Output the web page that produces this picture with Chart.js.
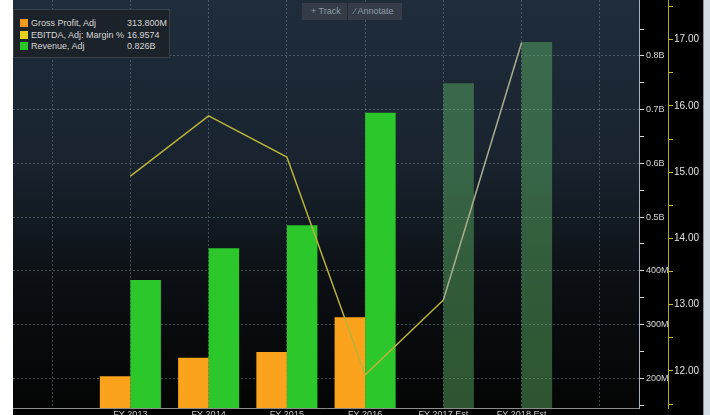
<!DOCTYPE html>
<html>
<head>
<meta charset="utf-8">
<script src="https://cdn.jsdelivr.net/npm/chart.js@4.4.1/dist/chart.umd.min.js"></script>
<style>
    body { margin: 0; background: #000; }
    #wrap { position: relative; width: 710px; height: 415px; overflow: hidden; }
    canvas { display: block; }
    .legend {
        position: absolute; left: 13px; top: 9px; width: 157px; height: 49px;
        background: #1b2229; border: 1px solid #38414a; box-sizing: border-box;
        font: 9px "Liberation Sans", Arial, sans-serif; color: #d6d6d6;
    }
    .legend .row { position: absolute; left: 6px; height: 11px; line-height: 11px; white-space: nowrap; }
    .legend .sw { display: inline-block; width: 8px; height: 8px; vertical-align: -1px; margin-right: 3px; }
    .legend .val { left: 112px; background: #1b2229; padding-left: 1px; }
    .tools {
        position: absolute; left: 302px; top: 3px; width: 100px; height: 17px;
        background: #343d47; font: 9px "Liberation Sans", Arial, sans-serif; color: #8e99a4;
        line-height: 17px;
    }
    .tools span { position: absolute; top: 0; }
    .tools .div { left: 45px; width: 1px; height: 17px; background: #252c33; }
</style>
</head>
<body>
<div id="wrap">
    <canvas id="chart" width="710" height="415"></canvas>
    <div class="legend" id="legend"></div>
    <div class="tools">
        <span style="left:9px">+ Track</span>
        <span class="div"></span>
        <span style="left:52px">&#8260; Annotate</span>
    </div>
</div>
<script>
// Data (money in millions, margin in %)
const categories = ['', 'FY 2013', 'FY 2014', 'FY 2015', 'FY 2016', 'FY 2017 Est', 'FY 2018 Est', ''];
const grossProfit = [null, 204, 238, 249, 313.8, null, null, null];
const revenue = [null, 383, 442, 485, 694, 749, 826, null];
const ebitdaMargin = [null, 14.94, 15.85, 15.23, 11.94, 13.07, 16.9574, null];
const estimate = [false, false, false, false, false, true, true, false];
const moneyTicks = [150, 200, 250, 300, 350, 400, 450, 500, 550, 600, 650, 700, 750, 800, 850];
const marginTicks = [11.5, 12, 12.5, 13, 13.5, 14, 14.5, 15, 15.5, 16, 16.5, 17, 17.5];

// Legend box (last values)
const legendRows = [
    { name: 'Gross Profit, Adj', value: '313.800M', color: '#f39b1f' },
    { name: 'EBITDA, Adj: Margin %', value: '16.9574', color: '#e2d31a' },
    { name: 'Revenue, Adj', value: '0.826B', color: '#2bc42b' }
];
document.getElementById('legend').innerHTML = legendRows.map((r, i) => `
    <div class="row" style="top:${8 + i * 11.5}px">
        <span class="sw" style="background:${r.color}"></span>${r.name}
    </div>
    <div class="row val" style="top:${8 + i * 11.5}px">${r.value}</div>
`).join('');

// Background: white margin, dark gradient plot, light strip on the right
const bgPlugin = {
    id: 'bg',
    beforeDraw(chart) {
        const { ctx, chartArea: a, width, height } = chart;
        ctx.save();
        ctx.fillStyle = '#000';
        ctx.fillRect(0, 0, width, height);
        const g = ctx.createLinearGradient(0, a.top, 0, a.bottom);
        g.addColorStop(0, '#1f2d3b');
        g.addColorStop(0.4, '#18232e');
        g.addColorStop(0.7, '#0b0f13');
        g.addColorStop(1, '#040404');
        ctx.fillStyle = g;
        ctx.fillRect(a.left, a.top, a.right - a.left, a.bottom - a.top);
        ctx.fillStyle = '#ffffff';
        ctx.fillRect(0, 0, a.left, height);
        ctx.fillStyle = '#d3dce5';
        ctx.fillRect(width - 7, 0, 7, height);
        ctx.fillStyle = '#8793a0';
        ctx.fillRect(width - 7, 0, 1, height);
        ctx.restore();
    }
};

const fmtMoney = v => v >= 500 ? (v / 1000).toFixed(1) + 'B' : v + 'M';

new Chart(document.getElementById('chart'), {
    data: {
        labels: categories,
        datasets: [
            {
                type: 'line',
                label: 'EBITDA, Adj: Margin %',
                data: ebitdaMargin,
                yAxisID: 'y2',
                borderColor: '#b9b23a',
                borderWidth: 1.5,
                pointRadius: 0,
                tension: 0,
                order: 0,
                segment: {
                    borderColor: c => estimate[c.p0DataIndex] ? '#a8ad8e' : '#b9b23a'
                }
            },
            {
                type: 'bar',
                label: 'Gross Profit, Adj',
                data: grossProfit,
                yAxisID: 'y',
                backgroundColor: '#fba31c',
                order: 1
            },
            {
                type: 'bar',
                label: 'Revenue, Adj',
                data: revenue,
                yAxisID: 'y',
                backgroundColor: estimate.map(e => e ? 'rgba(95, 185, 105, 0.45)' : '#2bc72b'),
                order: 1
            }
        ]
    },
    options: {
        responsive: false,
        animation: false,
        categoryPercentage: 0.78,
        barPercentage: 1.0,
        layout: { padding: { left: 13, right: 7, top: 0, bottom: 0 } },
        plugins: { legend: { display: false }, tooltip: { enabled: false } },
        scales: {
            x: {
                offset: true,
                grid: {
                    offset: false,
                    drawTicks: false,
                    color: 'rgba(140, 152, 164, 0.4)'
                },
                border: { color: '#8c8c8c', dash: [2, 2] },
                ticks: {
                    color: '#c8c8c8',
                    padding: 1,
                    maxRotation: 0,
                    autoSkip: false,
                    font: { family: 'Liberation Sans', size: 9 }
                },
                afterFit: s => { s.height = 7; s.paddingLeft = 0; s.paddingRight = 0; }
            },
            y: {
                position: 'right',
                weight: 1,
                min: 144.7,
                max: 904,
                afterBuildTicks: s => { s.ticks = moneyTicks.map(v => ({ value: v })); },
                afterFit: s => { s.width = 29; s.paddingTop = 0; s.paddingBottom = 0; },
                grid: {
                    color: c => c.tick && c.tick.value % 100 === 0 ? 'rgba(140, 152, 164, 0.45)' : 'rgba(0,0,0,0)',
                    tickColor: '#d8d8d8',
                    tickLength: 5
                },
                border: { color: '#a8b2bc', dash: [2, 2] },
                ticks: {
                    color: '#d8d8d8',
                    padding: 2,
                    font: { family: 'Liberation Sans', size: 9 },
                    callback: v => v % 100 === 0 ? fmtMoney(v) : ''
                }
            },
            y2: {
                position: 'right',
                weight: 2,
                min: 11.44,
                max: 17.6,
                afterBuildTicks: s => { s.ticks = marginTicks.map(v => ({ value: v })); },
                afterFit: s => { s.width = 35; s.paddingTop = 0; s.paddingBottom = 0; },
                grid: {
                    drawOnChartArea: false,
                    tickColor: '#c8bc2a',
                    tickLength: 5
                },
                border: { color: '#b5aa2a' },
                ticks: {
                    color: '#e0e0e0',
                    padding: 1,
                    font: { family: 'Liberation Sans', size: 10 },
                    callback: v => Number.isInteger(v) ? v.toFixed(2) : ''
                }
            }
        }
    },
    plugins: [bgPlugin]
});
</script>
</body>
</html>
